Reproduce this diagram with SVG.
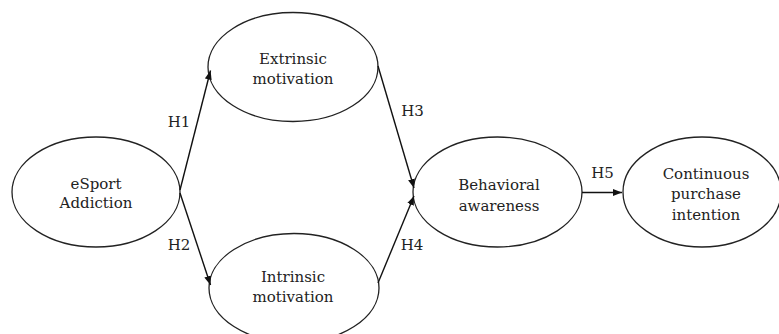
<svg xmlns="http://www.w3.org/2000/svg" width="779" height="334" viewBox="0 0 779 334">
<style>
.node{fill:#fff;stroke:#222;stroke-width:1.3}
.lbl{font-family:"DejaVu Serif","Liberation Serif",serif;font-size:15px;fill:#222;text-anchor:middle}
.edge{stroke:#111;stroke-width:1.4;fill:none}
</style>
<defs>
<marker id="arr" markerUnits="userSpaceOnUse" markerWidth="10" markerHeight="8" refX="9" refY="3.5" orient="auto">
<path d="M0,0 L9,3.5 L0,7 z" fill="#111"/>
</marker>
</defs>
<rect width="779" height="334" fill="#fff"/>
<g id="esport">
<ellipse class="node" cx="96" cy="192" rx="84" ry="55"/>
<text class="lbl" x="96" y="189">eSport</text>
<text class="lbl" x="96" y="208">Addiction</text>
</g>
<g id="extrinsic">
<ellipse class="node" cx="293" cy="67" rx="85" ry="54.5"/>
<text class="lbl" x="293" y="64">Extrinsic</text>
<text class="lbl" x="293" y="84">motivation</text>
</g>
<g id="intrinsic">
<ellipse class="node" cx="294" cy="288" rx="85" ry="54.5"/>
<text class="lbl" x="293" y="282">Intrinsic</text>
<text class="lbl" x="293" y="302">motivation</text>
</g>
<g id="behavioral">
<ellipse class="node" cx="497.5" cy="192" rx="84.5" ry="55"/>
<text class="lbl" x="499" y="190">Behavioral</text>
<text class="lbl" x="499" y="211">awareness</text>
</g>
<g id="continuous">
<ellipse class="node" cx="702" cy="192" rx="79" ry="55"/>
<text class="lbl" x="706" y="179">Continuous</text>
<text class="lbl" x="706" y="199">purchase</text>
<text class="lbl" x="706" y="220">intention</text>
</g>
<g id="connectors">
<line class="edge" x1="180" y1="190" x2="210.5" y2="70.5" marker-end="url(#arr)"/>
<line class="edge" x1="180" y1="193" x2="210.5" y2="285" marker-end="url(#arr)"/>
<line class="edge" x1="378" y1="66" x2="414" y2="188" marker-end="url(#arr)"/>
<line class="edge" x1="378" y1="283" x2="414" y2="196" marker-end="url(#arr)"/>
<line class="edge" x1="582" y1="192.5" x2="622" y2="192.5" marker-end="url(#arr)"/>
<text class="lbl" x="179" y="127">H1</text>
<text class="lbl" x="179" y="250">H2</text>
<text class="lbl" x="412.5" y="116">H3</text>
<text class="lbl" x="412" y="250">H4</text>
<text class="lbl" x="602.5" y="178">H5</text>
</g>
</svg>
